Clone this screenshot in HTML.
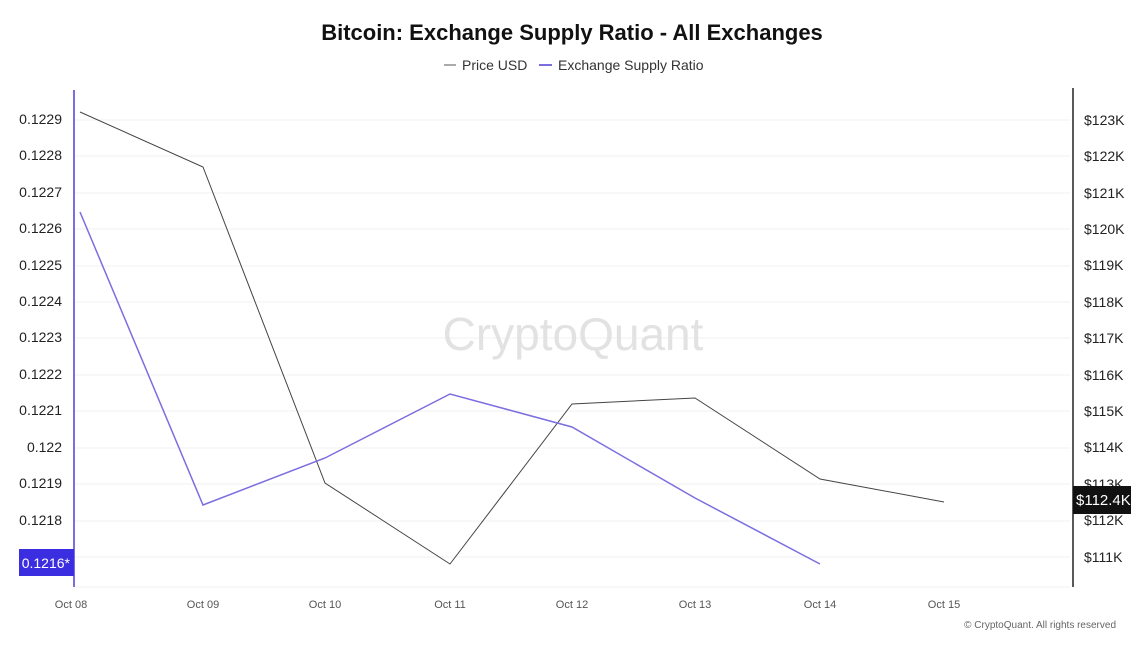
<!DOCTYPE html>
<html><head><meta charset="utf-8"><style>
body{margin:0;background:#fff;font-family:"Liberation Sans",sans-serif;}
</style></head><body>
<svg width="1145" height="644" xmlns="http://www.w3.org/2000/svg" font-family="Liberation Sans, sans-serif">
<rect width="1145" height="644" fill="#fff"/>
<text x="572" y="40" text-anchor="middle" font-size="22" font-weight="bold" fill="#111">Bitcoin: Exchange Supply Ratio - All Exchanges</text>
<line x1="444" y1="65" x2="456" y2="65" stroke="#aaa" stroke-width="2"/>
<text x="462" y="70" font-size="14" fill="#333">Price USD</text>
<line x1="539" y1="65" x2="552" y2="65" stroke="#7b6ee0" stroke-width="2"/>
<text x="558" y="70" font-size="14" fill="#333">Exchange Supply Ratio</text>
<g stroke="#f0f0f0" stroke-width="1">
<line x1="75" x2="1070" y1="120" y2="120"/><line x1="75" x2="1070" y1="156" y2="156"/><line x1="75" x2="1070" y1="193" y2="193"/><line x1="75" x2="1070" y1="229" y2="229"/><line x1="75" x2="1070" y1="266" y2="266"/><line x1="75" x2="1070" y1="302" y2="302"/><line x1="75" x2="1070" y1="338" y2="338"/><line x1="75" x2="1070" y1="375" y2="375"/><line x1="75" x2="1070" y1="411" y2="411"/><line x1="75" x2="1070" y1="448" y2="448"/><line x1="75" x2="1070" y1="484" y2="484"/><line x1="75" x2="1070" y1="521" y2="521"/><line x1="75" x2="1070" y1="557" y2="557"/><line x1="75" x2="1070" y1="587" y2="587"/>
</g>
<text x="573" y="350" text-anchor="middle" font-size="46" fill="#e2e2e2">CryptoQuant</text>
<line x1="74" y1="90" x2="74" y2="587" stroke="#7b6ee0" stroke-width="2"/>
<line x1="1073" y1="88" x2="1073" y2="587" stroke="#222" stroke-width="1.5"/>
<g font-size="14" fill="#222" text-anchor="end">
<text x="62" y="124">0.1229</text><text x="62" y="160">0.1228</text><text x="62" y="197">0.1227</text><text x="62" y="233">0.1226</text><text x="62" y="270">0.1225</text><text x="62" y="306">0.1224</text><text x="62" y="342">0.1223</text><text x="62" y="379">0.1222</text><text x="62" y="415">0.1221</text><text x="62" y="452">0.122</text><text x="62" y="488">0.1219</text><text x="62" y="525">0.1218</text>
</g>
<rect x="19" y="549" width="55" height="27" fill="#3b2ee0"/>
<text x="70" y="568" text-anchor="end" font-size="14" fill="#fff">0.1216*</text>
<g font-size="14" fill="#222">
<text x="1084" y="125">$123K</text><text x="1084" y="161">$122K</text><text x="1084" y="198">$121K</text><text x="1084" y="234">$120K</text><text x="1084" y="270">$119K</text><text x="1084" y="307">$118K</text><text x="1084" y="343">$117K</text><text x="1084" y="380">$116K</text><text x="1084" y="416">$115K</text><text x="1084" y="452">$114K</text><text x="1084" y="489">$113K</text><text x="1084" y="525">$112K</text><text x="1084" y="562">$111K</text>
</g>
<rect x="1073" y="486" width="58" height="28" fill="#111"/>
<text x="1076" y="505" font-size="15" fill="#fff">$112.4K</text>
<polyline fill="none" stroke="#444" stroke-width="1" points="80,112 203,167 325,483 450,564 572,404 695,398 820,479 944,502"/>
<polyline fill="none" stroke="#7b6ee0" stroke-width="1.5" points="80,212 203,505 325,458 450,394 572,427 695,498 820,564"/>
<g font-size="11" fill="#555" text-anchor="middle">
<text x="71" y="608">Oct 08</text><text x="203" y="608">Oct 09</text><text x="325" y="608">Oct 10</text><text x="450" y="608">Oct 11</text><text x="572" y="608">Oct 12</text><text x="695" y="608">Oct 13</text><text x="820" y="608">Oct 14</text><text x="944" y="608">Oct 15</text>
</g>
<text x="1116" y="628" text-anchor="end" font-size="10" fill="#666">© CryptoQuant. All rights reserved</text>
</svg>
</body></html>
